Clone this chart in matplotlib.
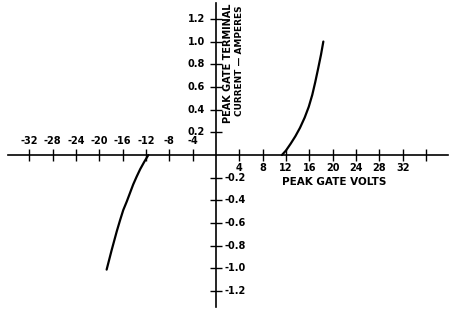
import numpy as np
import matplotlib.pyplot as plt

# datos
volts_pos = [11.3, 12.0, 12.8, 13.6, 14.4, 15.2, 15.9, 16.5, 17.0, 17.5, 18.0, 18.4]
amps_pos = [0.0, 0.04, 0.1, 0.165, 0.24, 0.33, 0.425, 0.53, 0.64, 0.76, 0.885, 1.0]
volts_neg = [-11.6, -12.3, -13.0, -13.6, -14.2, -14.75, -15.3, -15.9, -16.45, -17.0, -17.45, -17.9, -18.35, -18.75]
amps_neg = [0.0, -0.06, -0.125, -0.19, -0.26, -0.335, -0.41, -0.485, -0.575, -0.67, -0.755, -0.84, -0.93, -1.01]

xticks_neg = [-32, -28, -24, -20, -16, -12, -8, -4]
xticks_pos = [4, 8, 12, 16, 20, 24, 28, 32]
yticks_pos = [0.2, 0.4, 0.6, 0.8, 1.0, 1.2]
yticks_neg = [-0.2, -0.4, -0.6, -0.8, -1.0, -1.2]
xlabels_neg = ['-32', '-28', '-24', '-20', '-16', '-12', '-8', '-4']
xlabels_pos = ['4', '8', '12', '16', '20', '24', '28', '32']
ylabels_pos = ['0.2', '0.4', '0.6', '0.8', '1.0', '1.2']
ylabels_neg = ['-0.2', '-0.4', '-0.6', '-0.8', '-1.0', '-1.2']

fig = plt.figure(figsize=(4.49, 3.09), dpi=100)
ax = fig.add_axes([0, 0, 1, 1])
ax.set_xlim(-37.03, 39.94)
ax.set_ylim(-1.357, 1.366)

# ejes en el origen
for s in ['top', 'right']:
    ax.spines[s].set_visible(False)
ax.spines['left'].set_position(('data', 0))
ax.spines['bottom'].set_position(('data', 0))
ax.spines['bottom'].set_bounds(-35.7, 39.8)
ax.spines['left'].set_bounds(-1.34, 1.34)
ax.spines['left'].set_linewidth(1.2)
ax.spines['bottom'].set_linewidth(1.2)
ax.set_xticks(xticks_neg + xticks_pos + [36])
ax.set_yticks(yticks_neg + yticks_pos)
ax.tick_params(direction='inout', length=8, width=1.0, labelbottom=False, labelleft=False)

# curvas
ax.plot(volts_pos, amps_pos, color='black', lw=1.6, solid_capstyle='round')
ax.plot(volts_neg, amps_neg, color='black', lw=1.6, solid_capstyle='round')

fs = 7
for v, t in zip(xticks_neg, xlabels_neg):
    ax.text(v, 0.12, t, ha='center', va='center', fontsize=fs, fontweight='bold')
for v, t in zip(xticks_pos, xlabels_pos):
    ax.text(v, -0.115, t, ha='center', va='center', fontsize=fs, fontweight='bold')
for v, t in zip(yticks_pos, ylabels_pos):
    ax.text(-1.9, v, t, ha='right', va='center', fontsize=fs, fontweight='bold')
for v, t in zip(yticks_neg, ylabels_neg):
    ax.text(1.5, v, t, ha='left', va='center', fontsize=fs, fontweight='bold')

ax.text(20.2, -0.24, 'PEAK GATE VOLTS', ha='center', va='center', fontsize=7.5, fontweight='bold')
ax.text(2.1, 1.335, 'PEAK GATE TERMINAL', rotation=90, ha='center', va='top', fontsize=7.0, fontweight='bold')
ax.text(4.1, 1.32, 'CURRENT \u2014 AMPERES', rotation=90, ha='center', va='top', fontsize=6.4, fontweight='bold')

plt.savefig('out.png', dpi=100, facecolor='white')
